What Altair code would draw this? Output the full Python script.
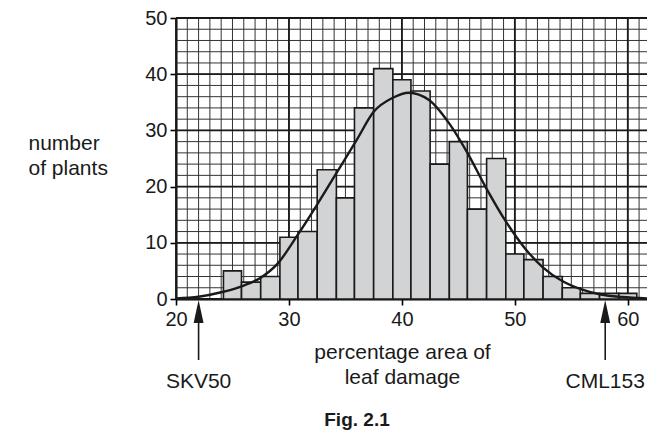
import altair as alt
import pandas as pd

# histogram bins (percentage area of leaf damage) and counts
bin_edges = [24.2, 25.8, 27.5, 29.2, 30.8, 32.5, 34.2, 35.8, 37.5, 39.2, 40.8, 42.5,
             44.2, 45.8, 47.5, 49.2, 50.8, 52.5, 54.2, 55.8, 57.5, 59.2, 60.8]
counts = [5, 3, 4, 11, 12, 23, 18, 34, 41, 39, 37, 24, 28, 16, 25, 8, 7, 4, 2, 1, 1, 1]

# fitted curve
curve_x = [20, 22, 24, 26, 27.5, 29, 30.8, 32.4, 34.2, 36, 37.5, 39.2, 40.6, 42.4,
           44.2, 45.8, 47.5, 49.2, 50.9, 52.5, 54.2, 55.9, 57.6, 59.5, 61.7]
curve_y = [0.1, 0.4, 1.2, 2.4, 3.8, 6.3, 11.5, 16.5, 22.4, 28.3, 33.3, 35.8, 36.7, 35.4,
           31.2, 26.0, 19.6, 13.8, 9.0, 5.6, 3.2, 1.7, 0.8, 0.35, 0.1]

# marked varieties
markers = ["SKV50", "CML153"]
marker_x = [22, 58]

x_major = [20, 30, 40, 50, 60]
y_major = [0, 10, 20, 30, 40, 50]
x_minor = list(range(21, 62))
y_minor = list(range(2, 50, 2))
caption = "Fig. 2.1"

FONT = "Liberation Sans"
W, H = 471, 281

bars = pd.DataFrame({"lo": bin_edges[:-1], "hi": bin_edges[1:], "n": counts})
curve = pd.DataFrame({"x": curve_x, "y": curve_y})
marks = pd.DataFrame({"name": markers, "x": marker_x})

xs = alt.Scale(domain=[20, 61.7], nice=False, zero=False)
ys = alt.Scale(domain=[0, 50], nice=False)

x_axis = alt.Axis(
    values=x_major, grid=False, tickSize=6, tickWidth=1.6, tickColor="black",
    domainColor="black", domainWidth=2, labelFontSize=20, labelPadding=4,
    labelFlush=False, labelColor="#1a1a1a", labelFont=FONT,
    title=["percentage area of", "leaf damage"], titleFont=FONT, titleFontSize=21,
    titleFontWeight="normal", titleColor="#1a1a1a", titleX=226, titleY=59,
    titleAlign="center", titleBaseline="alphabetic", titleLineHeight=25)
y_axis = alt.Axis(
    values=y_major, grid=False, tickSize=6, tickWidth=1.6, tickColor="black",
    domainColor="black", domainWidth=2, labelFontSize=20, labelPadding=3,
    labelFlush=False, labelColor="#1a1a1a", labelFont=FONT,
    title=["number", "of plants"], titleFont=FONT, titleFontSize=21,
    titleFontWeight="normal", titleColor="#1a1a1a", titleAngle=0,
    titleX=-148, titleY=131, titleAlign="left", titleBaseline="alphabetic",
    titleLineHeight=25)


def X(field):
    return alt.X(field, scale=xs, axis=x_axis)


def Y(field):
    return alt.Y(field, scale=ys, axis=y_axis)


grid_vx = alt.Chart(pd.DataFrame({"v": x_minor})).mark_rule(
    color="#333333", strokeWidth=1).encode(x=X("v:Q"))
grid_hy = alt.Chart(pd.DataFrame({"v": y_minor})).mark_rule(
    color="#333333", strokeWidth=1).encode(y=Y("v:Q"))
major_vx = alt.Chart(pd.DataFrame({"v": x_major})).mark_rule(
    color="#1a1a1a", strokeWidth=1.8).encode(x=X("v:Q"))
major_hy = alt.Chart(pd.DataFrame({"v": y_major})).mark_rule(
    color="#1a1a1a", strokeWidth=1.8).encode(y=Y("v:Q"))

hist = alt.Chart(bars).mark_rect(
    fill="#d2d3d5", stroke="#1a1a1a", strokeWidth=1.6
).encode(x=X("lo:Q"), x2="hi:Q", y=Y("n:Q"), y2=alt.datum(0))

line = alt.Chart(curve).mark_line(
    color="#1a1a1a", strokeWidth=2.4, interpolate="monotone"
).encode(x=X("x:Q"), y=Y("y:Q"))

shaft = alt.Chart(marks).mark_rule(color="#1a1a1a", strokeWidth=1.6).encode(
    x=X("x:Q"), y=alt.value(296), y2=alt.value(342))
head = alt.Chart(marks).mark_point(
    shape="M0,-1L0.43,1L-0.43,1Z", filled=True, size=529, color="#1a1a1a", opacity=1
).encode(x=X("x:Q"), y=alt.value(293.5))
names = alt.Chart(marks).mark_text(
    font=FONT, fontSize=21, color="#1a1a1a", baseline="alphabetic", align="center"
).encode(x=X("x:Q"), y=alt.value(370), text="name:N")

fig = alt.Chart(pd.DataFrame({"t": [caption]})).mark_text(
    font=FONT, fontSize=19, fontWeight="bold", color="#1a1a1a",
    baseline="alphabetic", align="center"
).encode(x=alt.value(181), y=alt.value(408), text="t:N")

chart = alt.layer(
    grid_vx, grid_hy, major_vx, major_hy, hist, line, shaft, head, names, fig
).properties(
    width=W, height=H,
    padding={"left": 168, "top": 10, "right": 0, "bottom": 132},
    autosize=alt.AutoSizeParams(type="none"),
).configure_view(stroke=None)

chart.save("out.html", embed_options={"renderer": "svg", "actions": False})
